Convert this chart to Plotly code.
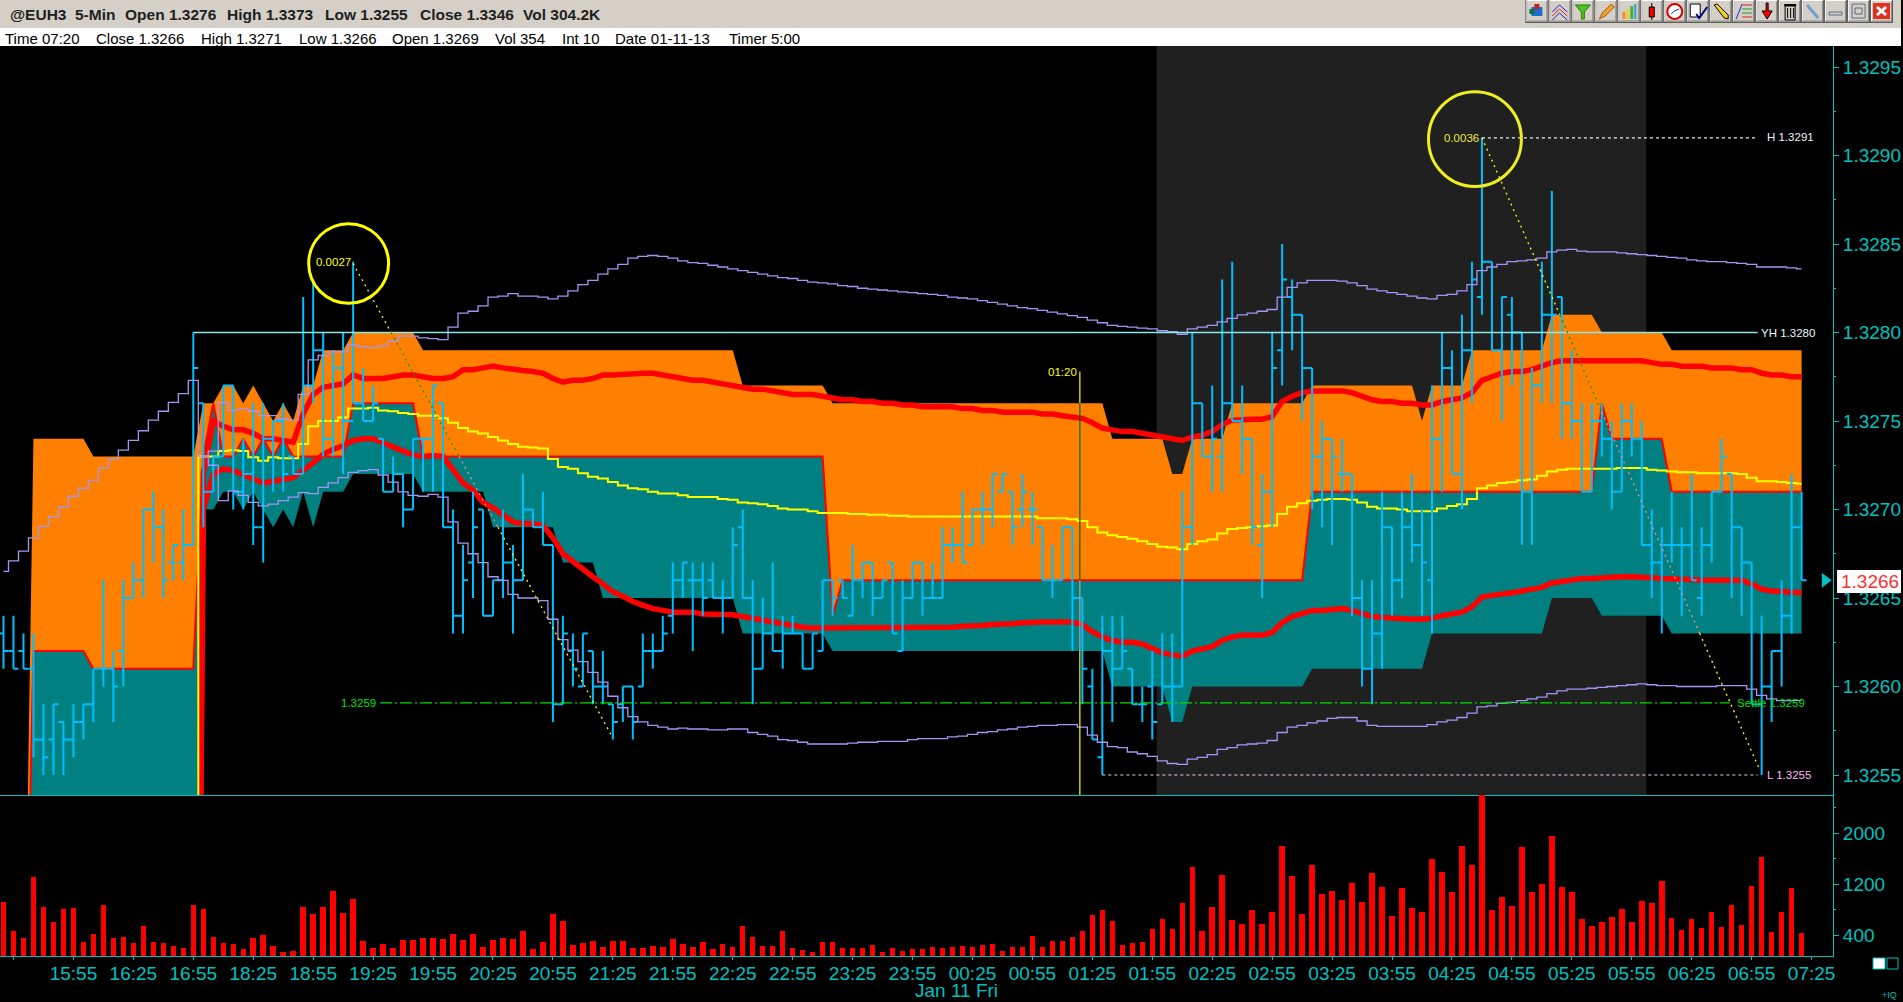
import plotly.graph_objects as go

# ---------- data (prices in pips above 1.3200, one value per 5-minute bar) ----------
BASE = 1.32
time_tick_labels = ["15:55","16:25","16:55","18:25","18:55","19:25","19:55","20:25","20:55","21:25",
    "21:55","22:25","22:55","23:25","23:55","00:25","00:55","01:25","01:55","02:25",
    "02:55","03:25","03:55","04:25","04:55","05:25","05:55","06:25","06:55","07:25"]
price_ticks = [1.3295,1.3290,1.3285,1.3280,1.3275,1.3270,1.3265,1.3260,1.3255]
volume_ticks = [400,1200,2000]

highs = [64,64,63,63,59,59,58,59,59,61, 66,62,66,67,70,71,70,68,70,80,
 76,73,77,77,74,76,76,75,76,73, 82,83,80,79,80,84,78,77,74,73,
 72,74,74,77,76,70,68,71,70,66, 70,68,72,70,71,68,64,63,63,62,
 62,59,60,60,63,63,64,67,67,67, 67,67,66,69,70,66,65,67,64,64,
 63,63,66,66,66,68,67,67,66,67, 66,67,67,67,69,69,71,70,71,72,
 72,71,72,71,69,68,69,69,65,61, 64,64,64,61,60,62,63,63,71,80,
 76,77,83,84,77,74,72,80,85,83, 81,78,75,74,74,72,66,66,71,69,
 71,72,70,77,80,79,81,84,91,84, 82,82,80,78,84,88,82,79,76,76,
 76,75,76,76,75,70,69,71,69,72, 69,71,74,72,69,67,64,62,66,72,71]
lows = [61,61,61,56,55,55,55,56,57,58, 60,58,60,65,65,67,65,66,66,68,
 69,71,73,70,70,68,67,71,71,72, 72,76,73,73,72,76,75,75,71,71,
 69,70,71,71,69,63,63,65,64,64, 65,63,66,69,68,58,59,60,60,59,
 59,57,58,57,60,61,62,63,65,62, 64,65,63,65,65,59,61,62,61,63,
 61,61,62,64,65,64,65,64,65,63, 62,65,64,65,65,67,67,68,68,69,
 71,68,69,68,66,65,66,62,59,57, 55,58,61,59,58,57,59,58,60,68,
 73,71,71,75,72,68,65,69,77,79, 75,70,69,68,71,64,60,59,61,64,
 65,67,64,63,71,72,70,76,81,79, 75,77,68,68,76,76,74,74,71,71,
 73,70,71,73,68,65,63,67,64,66, 64,67,71,65,64,59,55,58,60,63,66]
opens = [63,62,62,61,57,57,58,57,58,59, 61,61,62,65,66,70,69,67,67,68,
 76,71,73,77,71,72,69,74,75,73, 72,77,79,74,78,75,76,75,74,71,
 72,70,74,74,76,69,64,67,70,64, 66,67,66,70,69,68,59,62,60,62,
 60,59,59,60,60,62,62,64,66,66, 66,66,65,65,69,65,61,63,62,63,
 63,61,62,66,66,64,66,67,65,67, 62,65,67,65,65,68,68,68,70,70,
 71,71,70,70,69,66,66,69,65,60, 56,62,61,61,59,60,59,60,60,69,
 76,73,73,76,75,74,68,71,79,82, 81,78,73,74,72,72,65,61,63,69,
 66,69,68,66,74,78,72,79,82,84, 79,81,80,71,77,81,82,76,75,71,
 75,74,71,75,74,68,67,68,68,68, 65,68,71,72,69,67,59,60,62,64,69]
closes = [62,61,61,57,56,59,57,58,59,61, 61,60,65,66,70,69,66,68,68,78,
 71,73,77,71,72,69,74,75,72,72, 77,79,74,78,75,76,75,76,71,72,
 70,74,74,77,69,64,66,69,64,66, 67,66,70,69,68,59,63,61,63,60,
 60,58,60,58,62,62,63,66,67,66, 65,65,65,68,65,61,63,62,63,63,
 61,63,66,65,65,66,67,65,66,63, 65,67,65,65,68,68,67,70,70,72,
 72,69,71,70,66,66,69,65,61,57, 62,61,62,59,59,58,60,60,69,76,
 73,74,76,75,74,69,71,78,83,81, 78,73,74,73,72,65,61,63,69,66,
 69,68,67,74,78,72,79,83,84,79, 82,80,71,77,81,81,76,75,71,75,
 74,71,75,74,68,67,68,68,68,66, 68,71,73,69,67,59,60,62,64,69,66]

volumes = [920,460,350,1310,840,600,810,820,290,420, 870,350,370,275,540,290,275,230,200,870,
 810,370,275,260,180,350,400,230,130,150, 840,730,840,1090,745,965,310,200,260,200,
 320,320,350,350,340,420,320,420,210,320, 350,340,460,180,290,730,620,240,275,310,
 210,310,310,200,200,230,210,340,260,210, 290,180,260,210,540,370,230,230,460,200,
 165,130,290,290,200,200,200,240,130,200, 150,180,180,210,200,210,230,210,240,260,
 150,210,210,385,210,310,310,370,460,710, 790,620,240,275,290,490,650,490,900,1470,
 460,840,1340,635,570,790,570,760,1800,1325, 730,1500,1040,1090,950,1220,920,1370,1150,700,
 1140,820,760,1590,1390,1075,1800,1500,2700,790, 1000,855,1780,1075,1200,1950,1150,1075,650,540,
 600,680,810,600,930,900,1250,670,480,650, 510,760,525,870,560,1170,1620,450,760,1140,430]

# band edges start at bar 2
band_top = [38]+[74]*6+[73]*10+[73,76,76,77,77,76,77,76,75,76,75,77,77,79,79,79]+[80]*7+[79]*32+[77]*9+[76]*28+[74]*6+[72,72]+[74]*4+[76]*8+[77]*11+[75]+[77]*4+[79]*8+[81]*5+[80]*7+[79]*14
band_mid = [36]+[62]*6+[61]*11+[73,76,73,73,74,73,74,73,74,73]+[73]*5+[76]*7+[73]*41+[64]+[66]*47+[71]*29+[76]+[74]*6+[71]*14
band_low = [30]*17+[0,70,70,71,71,70,71,70,69,70,69,71,69,71,71,71]+[72]*7+[71]*7+[69]*7+[67]*4+[65]*14+[63]*9+[62]*28+[60]*6+[58,58]+[60]*12+[61]*12+[63]*12+[65]*5+[64]*7+[63]*14

# thick red curves and yellow line start at bar 19 (off-chart value), then bar 20 onward
red_upper = [0,72,75,74.7,74.5,74.5,74.3,74.0,74.0,73.9,73.8,
 75.4,76.5,76.9,77,77.1,77.6,77.4,77.4,77.4,77.5, 77.6,77.6,77.5,77.4,77.4,77.5,77.9,77.9,78,78.1,
 78,77.9,77.85,77.8,77.7,77.4,77.2,77.3,77.3,77.4, 77.6,77.6,77.65,77.7,77.7,77.7,77.6,77.5,77.4,77.3,
 77.3,77.2,77.1,77.0,76.9,76.8,76.8,76.7,76.6,76.5, 76.5,76.5,76.4,76.3,76.2,76.2,76.1,76.1,76.0,76.0,
 75.9,75.9,75.8,75.8,75.8,75.8,75.7,75.7,75.6,75.6, 75.5,75.5,75.5,75.5,75.4,75.4,75.3,75.2,75.15,74.9,
 74.6,74.5,74.4,74.4,74.3,74.2,74.1,74.0,73.9,74.1, 74.2,74.4,74.8,75.05,75.1,75.1,75.1,75.25,76.1,76.4,
 76.6,76.7,76.7,76.7,76.7,76.6,76.4,76.2,76.1,76.1, 76.0,76.0,75.9,75.9,76.1,76.2,76.3,76.6,77.3,77.5,
 77.7,77.8,77.8,77.9,78.1,78.3,78.4,78.4,78.4,78.4, 78.4,78.4,78.4,78.4,78.4,78.3,78.2,78.2,78.1,78.1,
 78.1,78.0,78.0,78.0,77.9,77.9,77.7,77.6,77.6,77.5,77.5]
red_lower = [0,70,72,72.3,72.2,71.95,71.7,71.5,71.6,71.7,71.8,
 72.2,72.7,73.1,73.4,73.6,73.9,74.0,74.0,73.8,73.55, 73.3,73.1,73.0,73.05,73.0,72.2,71.5,71.1,70.4,70.1,
 69.7,69.3,69.2,69.2,69.1,68.4,67.5,67.05,66.6,66.2, 65.8,65.35,65.1,64.8,64.6,64.4,64.3,64.2,64.2,64.2,
 64.1,64.1,64.1,64.05,63.95,63.85,63.75,63.6,63.5,63.4, 63.35,63.3,63.3,63.3,63.3,63.3,63.3,63.3,63.3,63.3,
 63.3,63.3,63.3,63.3,63.3,63.35,63.4,63.4,63.45,63.5, 63.5,63.55,63.6,63.65,63.65,63.65,63.65,63.65,63.5,63.1,
 62.8,62.6,62.5,62.5,62.4,62.15,61.9,61.8,61.7,62.0, 62.1,62.25,62.6,62.8,62.9,62.9,62.9,63.05,63.6,63.95,
 64.1,64.3,64.3,64.35,64.4,64.3,64.1,63.95,63.9,63.85, 63.85,63.8,63.8,63.85,64,64.1,64.2,64.5,65.05,65.15,
 65.2,65.3,65.4,65.5,65.6,65.85,65.95,66,66.1,66.1, 66.15,66.15,66.2,66.2,66.2,66.15,66.1,66.1,66.05,66.05,
 66,66,66.05,66,66,65.8,65.5,65.4,65.35,65.3,65.3]
yellow_line = [0,73.0,73.0,73.3,73.35,73.3,72.95,72.75,72.95,72.9,72.9,
 73.7,74.7,75,75,75.2,75.7,75.7,75.75,75.6,75.55, 75.45,75.4,75.3,75.3,75.15,74.9,74.6,74.4,74.3,74.1,
 73.9,73.7,73.55,73.5,73.45,72.85,72.4,72.3,72.05,71.85, 71.75,71.55,71.35,71.2,71.15,71,70.9,70.9,70.8,70.7,
 70.7,70.7,70.6,70.55,70.4,70.35,70.3,70.2,70.05,70, 70,69.9,69.8,69.8,69.8,69.75,69.75,69.7,69.7,69.65,
 69.65,69.6,69.6,69.6,69.6,69.6,69.6,69.6,69.6,69.6, 69.6,69.6,69.6,69.6,69.5,69.5,69.5,69.45,69.35,69,
 68.7,68.55,68.45,68.35,68.2,68.05,67.9,67.85,67.75,68.05, 68.2,68.3,68.65,68.9,68.95,69,69.05,69.1,69.75,70.15,
 70.35,70.5,70.55,70.6,70.6,70.55,70.4,70.15,70.05,70.05, 70,69.9,69.9,69.9,70.05,70.2,70.3,70.6,71.2,71.35,
 71.5,71.55,71.65,71.7,71.9,72.15,72.25,72.3,72.3,72.3, 72.3,72.3,72.35,72.35,72.35,72.25,72.2,72.15,72.1,72.1,
 72.05,72.05,72.05,72.05,72,71.8,71.6,71.6,71.55,71.5,71.45]
# purple upper runs from bar 0, purple lower from bar 20
purple_upper = [66.5,67.1,67.65,68.4,69.05,69.6,70.15,70.75,71.2,71.65, 72.35,72.85,73.35,73.9,74.45,75.05,75.55,76.05,76.55,77.3,
 73,73.3,76.05,75.6,75.7,75.55,75.3,75.3,75.1,75.05, 76.5,78.45,78.7,78.9,78.9,79.3,79.2,79.15,79.25,79.5,
 79.8,79.8,79.7,79.65,79.6,80.3,81.1,81.2,81.5,82, 82.05,82.2,82.05,82.05,82,81.9,82.05,82.35,82.7,82.95,
 83.3,83.6,83.85,84.2,84.3,84.35,84.3,84.2,84.05,83.95, 83.9,83.8,83.7,83.6,83.5,83.4,83.3,83.2,83.1,83.05,
 82.95,82.85,82.8,82.75,82.65,82.6,82.5,82.45,82.4,82.35, 82.3,82.25,82.2,82.15,82.1,82,81.95,81.9,81.8,81.7,
 81.6,81.5,81.4,81.35,81.25,81.15,81.05,80.95,80.85,80.7, 80.55,80.4,80.35,80.3,80.25,80.2,80.1,80.05,79.9,80.2,
 80.3,80.4,80.6,80.8,81,81.1,81.2,81.3,82,82.55, 82.8,82.95,82.95,82.95,82.9,82.8,82.65,82.45,82.35,82.25,
 82.15,82.05,81.95,81.9,82.1,82.15,82.35,82.7,83.5,83.7, 83.85,84,84.05,84.1,84.2,84.55,84.65,84.7,84.6,84.55,
 84.55,84.55,84.5,84.45,84.4,84.35,84.3,84.25,84.2,84.1, 84.05,84,84,83.95,83.9,83.85,83.7,83.7,83.7,83.65,83.6]
purple_lower = [73,72.5,70.5,71.05,70.8,70.4,70.2,70.3,70.5,70.7,
 70.95,70.9,71.25,71.5,71.8,72.1,72.2,72.25,71.95,71.55, 71,70.8,70.75,70.85,70.7,69.3,68.1,67.5,67,66.2,
 66,65.2,65,65,64.85,63.8,62.65,62.05,61.4,60.8, 60.25,59.45,58.8,58.3,58,57.8,57.7,57.6,57.65,57.6,
 57.6,57.55,57.55,57.6,57.6,57.4,57.3,57.2,57,56.95, 56.85,56.75,56.75,56.75,56.75,56.8,56.85,56.85,56.9,56.9,
 56.9,57,57.05,57.05,57.05,57.15,57.2,57.3,57.4,57.45, 57.55,57.6,57.7,57.75,57.8,57.8,57.85,57.85,57.7,57.25,
 56.85,56.6,56.55,56.3,56.2,56.05,55.8,55.65,55.6,55.9, 56,56.15,56.45,56.55,56.7,56.75,56.8,56.95,57.4,57.7,
 57.8,57.95,58.05,58.2,58.25,58.25,58.05,57.8,57.75,57.75, 57.75,57.75,57.75,57.85,58,58.1,58.25,58.5,58.85,58.9,
 59.05,59.1,59.2,59.3,59.4,59.6,59.75,59.85,59.85,59.9, 59.95,60,60.05,60.1,60.15,60.1,60.05,60.05,60,60,
 60,60,60.05,60.05,60.05,59.85,59.5,59.3,59.2,59.2,59.2]

# drawn trend lines: bar positions and prices (pips)
trend_a_bars = [35,38.8,45.6,49.5,60.8]
trend_a_pips = [83.9,80,73,69,57.3]
trend_b_bars = [148,155.8,160,169.8,175.8]
trend_b_pips = [91,81,75.5,63,55.3]
trend_colors = ["#ffff00","#00a000","#ff8a8a","#ffff00"]
marker_bar = 107.75
marker_pips = [77.8,76,66,62,50]
marker_colors = ["#ffff00","#006a00","#c89a9a","#ffff00"]
session_start, session_end = 115.43, 164.45
yest_high, day_high, day_low, settle, last_px = 80, 91, 55, 59.08, 66

N = len(highs)
bars = list(range(N))
assert N == 181 and all(len(a) == 181 for a in (lows, opens, closes, volumes, purple_upper))
assert len(band_top) == 179 and len(band_mid) == 179 and len(band_low) == 179
assert len(red_upper) == 162 and len(red_lower) == 162 and len(yellow_line) == 162 and len(purple_lower) == 161

def P(a):
    return [BASE + v / 1e4 for v in a] if isinstance(a, list) else BASE + a / 1e4

# ---------- geometry / style ----------
W, H = 1903, 1002
TEAL_TXT = "#00c0c0"
def px(x): return x / W
def py(y): return 1 - y / H

fig = go.Figure()
band_x = bars[2:]
fig.add_trace(go.Scatter(x=band_x, y=P(band_low), mode="lines", line=dict(width=0, color="#008080"), hoverinfo="skip"))
fig.add_trace(go.Scatter(x=band_x, y=P(band_mid), mode="lines", line=dict(width=0, color="#008080"), fill="tonexty", fillcolor="#008080", hoverinfo="skip"))
fig.add_trace(go.Scatter(x=band_x, y=P(band_top), mode="lines", line=dict(width=0, color="#ff8000"), fill="tonexty", fillcolor="#ff8000", hoverinfo="skip"))
fig.add_trace(go.Scatter(x=band_x, y=P(band_mid), mode="lines", line=dict(width=2, color="#ff0000"), hoverinfo="skip"))
fig.add_trace(go.Scatter(x=bars[19:], y=P(red_upper), mode="lines", line=dict(width=5.5, color="#ff0000"), hoverinfo="skip"))
fig.add_trace(go.Scatter(x=bars[19:], y=P(red_lower), mode="lines", line=dict(width=5.5, color="#ff0000"), hoverinfo="skip"))
fig.add_trace(go.Scatter(x=bars[19:], y=P(yellow_line), mode="lines", line=dict(width=2, color="#ffff00", shape="hvh"), hoverinfo="skip"))

# OHLC bars on an overlaying axis so they sit above the filled bands
fig.add_trace(go.Ohlc(x=bars, yaxis="y3", open=P(opens), high=P(highs), low=P(lows), close=P(closes),
    increasing=dict(line=dict(color="#00bfff", width=2)), decreasing=dict(line=dict(color="#00bfff", width=2)),
    tickwidth=0.5, line=dict(width=2), hoverinfo="skip"))

fig.add_trace(go.Scatter(x=bars, y=P(purple_upper), yaxis="y3", mode="lines", line=dict(width=1.3, color="#a396f5", shape="hvh"), hoverinfo="skip"))
fig.add_trace(go.Scatter(x=bars[20:], y=P(purple_lower), yaxis="y3", mode="lines", line=dict(width=1.3, color="#a396f5", shape="hvh"), hoverinfo="skip"))

# reference levels
level_end = 175.6
fig.add_trace(go.Scatter(x=[19, level_end], y=P([yest_high]*2), yaxis="y3", mode="lines", line=dict(width=1.3, color="#8fe8e8"), hoverinfo="skip"))
fig.add_trace(go.Scatter(x=[148, level_end], y=P([day_high]*2), yaxis="y3", mode="lines", line=dict(width=1.2, color="#e8f0f0", dash="3px,3px"), hoverinfo="skip"))
fig.add_trace(go.Scatter(x=[110, level_end], y=P([day_low]*2), yaxis="y3", mode="lines", line=dict(width=1.2, color="#f8c8f0", dash="3px,3px"), hoverinfo="skip"))
fig.add_trace(go.Scatter(x=[37.7, 172.8], y=P([settle]*2), yaxis="y3", mode="lines", line=dict(width=1.3, color="#00e000", dash="12px,3px,2px,3px"), hoverinfo="skip"))

# trend lines and the 01:20 marker, coloured as they cross the fills
for bx_, by_ in ((trend_a_bars, trend_a_pips), (trend_b_bars, trend_b_pips)):
    for k, c in enumerate(trend_colors):
        fig.add_trace(go.Scatter(x=bx_[k:k+2], y=P(by_[k:k+2]), yaxis="y3", mode="lines", line=dict(width=1.3, color=c, dash="2px,4px"), hoverinfo="skip"))
for k, c in enumerate(marker_colors):
    fig.add_trace(go.Scatter(x=[marker_bar]*2, y=P(marker_pips[k:k+2]), yaxis="y3", mode="lines", line=dict(width=1.2, color=c), hoverinfo="skip"))

fig.add_trace(go.Scatter(x=[182.35], y=P([last_px]), yaxis="y3", mode="markers", marker=dict(symbol="triangle-right", size=13, color=TEAL_TXT), hoverinfo="skip"))

# volume panel
fig.add_trace(go.Bar(x=bars, y=volumes, xaxis="x2", yaxis="y2", width=0.55, marker=dict(color="#ff0000", line=dict(width=0)), hoverinfo="skip"))

# ---------- shapes ----------
shapes = [
    dict(type="rect", xref="x", yref="y domain", x0=session_start, x1=session_end, y0=0, y1=1, fillcolor="#202020", line=dict(width=0), layer="below"),
    dict(type="rect", xref="paper", yref="paper", x0=0, x1=1, y0=py(28), y1=1, fillcolor="#d4d0c8", line=dict(width=0)),
    dict(type="rect", xref="paper", yref="paper", x0=0, x1=1, y0=py(46), y1=py(28), fillcolor="#ffffff", line=dict(width=0)),
    dict(type="circle", xref="x", yref="y", x0=30.55, x1=38.55, y0=P(81.65), y1=P(86.15), line=dict(color="#ffff00", width=3)),
    dict(type="circle", xref="x", yref="y", x0=142.65, x1=151.95, y0=P(88.25), y1=P(93.6), line=dict(color="#eeee22", width=3)),
    dict(type="rect", xref="paper", yref="paper", x0=px(1839), x1=1, y0=py(593), y1=py(570), fillcolor="#ffffff", line=dict(width=0)),
    dict(type="rect", xref="paper", yref="paper", x0=px(1875), x1=px(1887), y0=py(969), y1=py(958), fillcolor="#ffffff", line=dict(color=TEAL_TXT, width=1)),
    dict(type="rect", xref="paper", yref="paper", x0=px(1889), x1=px(1900), y0=py(969), y1=py(958), line=dict(color=TEAL_TXT, width=1)),
]

# toolbar buttons
def rect(x0, y0, x1, y1, fill, line=None):
    shapes.append(dict(type="rect", xref="paper", yref="paper", x0=px(x0), x1=px(x1), y0=py(y1), y1=py(y0),
                       fillcolor=fill, line=dict(width=1 if line else 0, color=line or fill)))
def path(points, fill, line=None, width=1):
    d = "M " + " L ".join(f"{px(a):.6f},{py(b):.6f}" for a, b in points)
    shapes.append(dict(type="path", xref="paper", yref="paper", path=d + (" Z" if fill else ""),
                       fillcolor=fill or "rgba(0,0,0,0)", line=dict(width=width, color=line or fill)))
for k in range(16):
    x0 = 1527 + 23 * k
    rect(x0, 0, x0 + 23, 23, "#5a5a5a")
    rect(x0 + 1, 0, x0 + 22, 21.5, "#ffffff")
    rect(x0 + 2, 1, x0 + 22, 21.5, "#8a8a84")
    rect(x0 + 2, 1, x0 + 21, 20.5, "#d4d0c8")
bx = lambda k: 1527 + 23 * k
rect(bx(0)+6, 7, bx(0)+17, 16, "#1a6fd0"); rect(bx(0)+9, 4, bx(0)+14, 9, "#c02020"); rect(bx(0)+4, 9, bx(0)+9, 14, "#107040")
for off, c in ((0, "#2020e0"), (4, "#e02020"), (8, "#2020e0")):
    path([(bx(1)+4, 12+off), (bx(1)+11, 5+off), (bx(1)+19, 12+off)], None, c)
path([(bx(2)+4, 5), (bx(2)+19, 5), (bx(2)+13, 12), (bx(2)+13, 19), (bx(2)+10, 19), (bx(2)+10, 12)], "#50c020", "#208000")
path([(bx(3)+5, 19), (bx(3)+8, 13), (bx(3)+17, 4), (bx(3)+20, 7), (bx(3)+11, 16)], "#f0a030", "#a06010")
rect(bx(4)+5, 12, bx(4)+8, 19, "#f09030"); rect(bx(4)+9, 9, bx(4)+12, 19, "#f0d030"); rect(bx(4)+13, 6, bx(4)+16, 19, "#40b040"); rect(bx(4)+17, 4, bx(4)+19, 19, "#30a0d0")
rect(bx(5)+11, 3, bx(5)+12, 20, "#000000"); rect(bx(5)+9, 7, bx(5)+14, 17, "#ff0000", "#000000")
shapes.append(dict(type="circle", xref="paper", yref="paper", x0=px(bx(6)+4), x1=px(bx(6)+19), y0=py(19), y1=py(4), fillcolor="#ffffff", line=dict(color="#d00000", width=2)))
path([(bx(6)+8, 14), (bx(6)+11, 11), (bx(6)+16, 9)], None, "#1030a0")
rect(bx(7)+4, 4, bx(7)+14, 17, "#ffffff", "#000000"); path([(bx(7)+10, 14), (bx(7)+13, 18), (bx(7)+21, 7)], None, "#000080", 2)
path([(bx(8)+5, 5), (bx(8)+8, 4), (bx(8)+19, 15), (bx(8)+19, 19), (bx(8)+15, 18)], "#f0d020", "#000000")
path([(bx(9)+4, 19), (bx(9)+10, 4)], None, "#2020e0")
for off, c in ((5, "#e02020"), (9, "#20a020"), (13, "#20a020"), (17, "#e02020")):
    path([(bx(9)+10, off), (bx(9)+20, off)], None, c)
path([(bx(10)+11, 3), (bx(10)+13, 3), (bx(10)+13, 11), (bx(10)+17, 11), (bx(10)+12, 19), (bx(10)+7, 11), (bx(10)+11, 11)], "#ff0000", "#000000")
rect(bx(11)+7, 6, bx(11)+17, 20, "#d4d0c8", "#000000"); rect(bx(11)+6, 4, bx(11)+18, 6, "#000000")
rect(bx(11)+9, 8, bx(11)+10, 18, "#000000"); rect(bx(11)+12, 8, bx(11)+13, 18, "#000000"); rect(bx(11)+15, 8, bx(11)+16, 18, "#000000")
path([(bx(12)+6, 5), (bx(12)+17, 18)], None, "#70a0d8", 3)
rect(bx(13)+5, 12, bx(13)+18, 15, "#d4d0c8", "#5a6a80")
rect(bx(14)+5, 4, bx(14)+18, 18, "#d4d0c8", "#5a6a80"); rect(bx(14)+8, 8, bx(14)+15, 14, "#d4d0c8", "#5a6a80")
rect(bx(15)+3, 3, bx(15)+20, 19, "#e03020")
path([(bx(15)+7, 7), (bx(15)+16, 15)], None, "#ffffff", 3); path([(bx(15)+16, 7), (bx(15)+7, 15)], None, "#ffffff", 3)

# ---------- text ----------
notes = []
def label(x, y, text, color, size, family="Liberation Sans", anchor="left", bold=False):
    notes.append(dict(xref="paper", yref="paper", x=px(x), y=py(y), text=f"<b>{text}</b>" if bold else text, showarrow=False,
                      xanchor=anchor, yanchor="middle", font=dict(color=color, size=size, family=family), borderpad=0, align="left"))
for x, t in ((9, "@EUH3"), (74, "5-Min"), (124, "Open 1.3276"), (226, "High 1.3373"), (324, "Low 1.3255"), (419, "Close 1.3346"), (523, "Vol 304.2K")):
    label(x, 14, t, "#202020", 15.5, bold=True)
for x, t in ((4, "Time 07:20"), (95, "Close 1.3266"), (200, "High 1.3271"), (298, "Low 1.3266"), (391, "Open 1.3269"),
             (495, "Vol 354"), (562, "Int 10"), (615, "Date 01-11-13"), (729, "Timer 5:00")):
    label(x, 38, t, "#000000", 15)
label(1762, 333, "YH 1.3280", "#e8f8f8", 11.5)
label(1768, 137, "H 1.3291", "#e8f8f8", 11.5)
label(1768, 775, "L 1.3255", "#ffb8ff", 11.5)
label(1738, 703, "Settle 1.3259", "#00e000", 11.5)
label(340, 703, "1.3259", "#00e000", 11.5)
label(1048, 372, "01:20", "#ffff00", 11.5)
label(315, 262, "0.0027", "#ffff00", 11.5)
label(1444.5, 138, "0.0036", "#e8e840", 11.5)
label(1842, 581, "1.3266", "#ff3030", 19)
label(958, 990, "Jan 11 Fri", TEAL_TXT, 19, anchor="center")
label(1883, 995, "+IQ", TEAL_TXT, 9)

# ---------- layout ----------
tick_vals = [7 + 6 * k for k in range(len(time_tick_labels))]
x_range = [-0.35, 183.15]
y_px = lambda y: BASE + (55 + (775 - y) / 17.7) / 1e4
v_range = [71, 2596]
fig.update_layout(
    width=W, height=H, margin=dict(l=0, r=0, t=0, b=0), autosize=False,
    paper_bgcolor="#000000", plot_bgcolor="#000000", showlegend=False, bargap=0, hovermode=False,
    shapes=shapes, annotations=notes,
    xaxis=dict(domain=[0, 1835 / W], range=x_range, anchor="y", showgrid=False, zeroline=False, showticklabels=False, ticks="",
               rangeslider=dict(visible=False), showline=True, linecolor=TEAL_TXT, linewidth=1),
    yaxis=dict(domain=[py(795), py(46)], range=[y_px(795), y_px(46)], side="right", anchor="x", showgrid=False, zeroline=False,
               tickvals=price_ticks, ticktext=[f"{t:.4f}" for t in price_ticks], ticks="outside", ticklen=5, tickcolor=TEAL_TXT, tickwidth=1,
               tickfont=dict(color=TEAL_TXT, size=19, family="Liberation Sans"), showline=True, linecolor=TEAL_TXT, linewidth=1,
               minor=dict(tickvals=[round(1.32525 + 0.0005 * k, 5) for k in range(9)], ticks="outside", ticklen=2, tickcolor=TEAL_TXT, tickwidth=1)),
    yaxis3=dict(overlaying="y", range=[y_px(795), y_px(46)], side="right", anchor="x", visible=False, showgrid=False, zeroline=False),
    xaxis2=dict(domain=[0, 1835 / W], range=x_range, anchor="y2", showgrid=False, zeroline=False, tickvals=tick_vals, ticktext=time_tick_labels,
                ticks="outside", ticklen=3, tickcolor=TEAL_TXT, tickwidth=1, tickangle=0, tickfont=dict(color=TEAL_TXT, size=19, family="Liberation Sans"),
                ticklabelstandoff=-3, showline=True, linecolor=TEAL_TXT, linewidth=1,
                minor=dict(tickvals=[1], ticks="outside", ticklen=3, tickcolor=TEAL_TXT, tickwidth=1)),
    yaxis2=dict(domain=[py(956), py(795)], range=v_range, side="right", anchor="x2", showgrid=False, zeroline=False,
                tickvals=volume_ticks, ticktext=[str(t) for t in volume_ticks], ticks="outside", ticklen=5, tickcolor=TEAL_TXT, tickwidth=1,
                tickfont=dict(color=TEAL_TXT, size=19, family="Liberation Sans"), showline=True, linecolor=TEAL_TXT, linewidth=1,
                minor=dict(tickvals=[800, 1600, 2400], ticks="outside", ticklen=2, tickcolor=TEAL_TXT, tickwidth=1)),
)
fig.write_html("out.html", config=dict(displayModeBar=False),
               post_script="document.body.style.margin='0';document.body.style.background='#000';document.documentElement.style.overflow='hidden';")
